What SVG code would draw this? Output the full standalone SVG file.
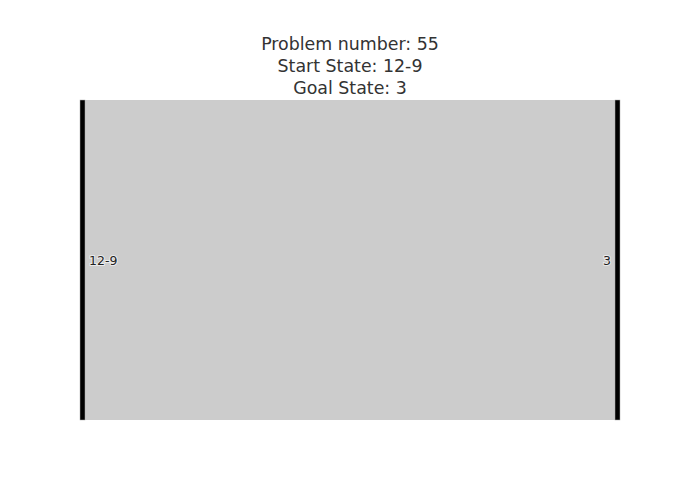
<svg xmlns="http://www.w3.org/2000/svg" width="700" height="500" viewBox="0 0 700 500">
<style>
.title{font-family:"DejaVu Sans",Verdana,sans-serif;font-size:17.4px;fill:#333;text-anchor:middle}
.node rect{fill:#000;stroke:#aaa;stroke-width:0.5}
.lbl{font-family:"DejaVu Sans",Verdana,sans-serif;font-size:12.5px;fill:#222;paint-order:stroke;stroke:#fff;stroke-width:2px;stroke-opacity:0.6}
</style>
<rect width="700" height="500" fill="#fff"/>
<text class="title" x="350" y="50">Problem number: 55</text>
<text class="title" x="350" y="72">Start State: 12-9</text>
<text class="title" x="350" y="94">Goal State: 3</text>
<g id="links">
<path d="M85,100 C350,100 350,100 615,100 L615,420 C350,420 350,420 85,420 Z" fill="#000" fill-opacity="0.2"/>
</g>
<g id="node-start" class="node">
<rect x="80" y="100" width="5" height="320"/>
<text class="lbl" x="89" y="264.5">12-9</text>
</g>
<g id="node-goal" class="node">
<rect x="615" y="100" width="5" height="320"/>
<text class="lbl" x="611" y="264.5" text-anchor="end">3</text>
</g>
</svg>
